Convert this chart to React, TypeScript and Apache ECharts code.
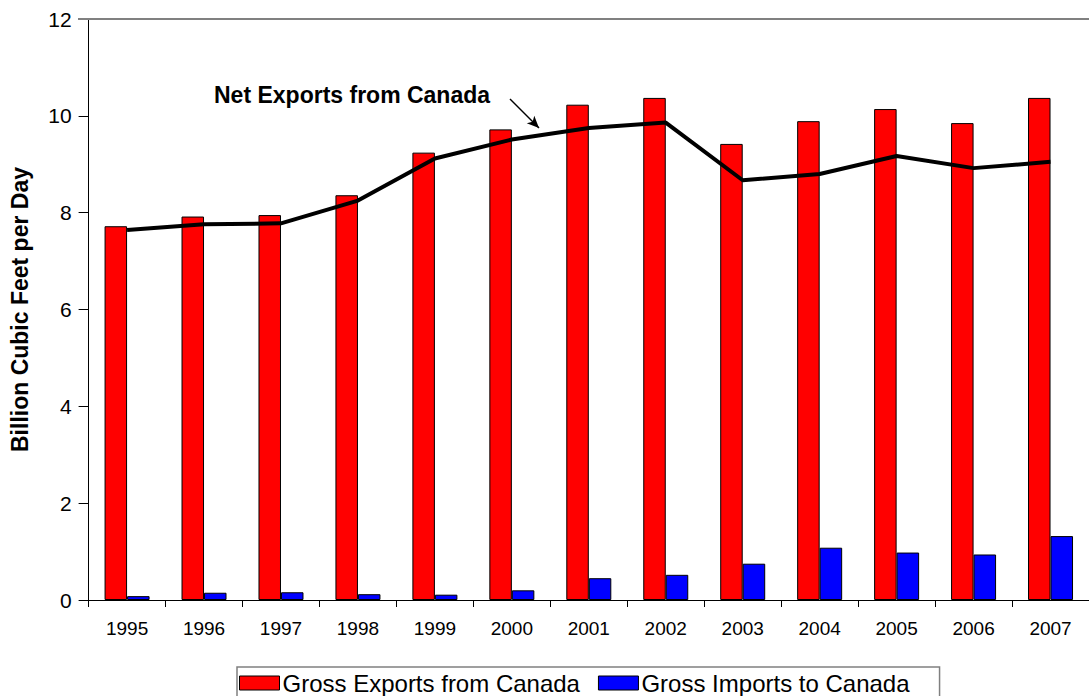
import React, { useEffect, useRef } from "react";
import * as echarts from "echarts";

const years = ["1995", "1996", "1997", "1998", "1999", "2000", "2001", "2002", "2003", "2004", "2005", "2006", "2007"];
const grossExports = [7.72, 7.92, 7.95, 8.36, 9.24, 9.72, 10.23, 10.37, 9.42, 9.89, 10.14, 9.85, 10.37];
const grossImports = [0.08, 0.15, 0.16, 0.12, 0.11, 0.2, 0.45, 0.52, 0.75, 1.08, 0.98, 0.94, 1.32];
const netExports = [7.64, 7.76, 7.78, 8.25, 9.12, 9.51, 9.75, 9.86, 8.67, 8.8, 9.17, 8.92, 9.05];
const yTicks = { min: 0, max: 12, interval: 2 };

const FONT = "'Liberation Sans', Arial, sans-serif";

export default function App() {
  const ref = useRef<HTMLDivElement>(null);
  useEffect(() => {
    if (!ref.current) return;
    const chart = echarts.init(ref.current, undefined, { renderer: "svg" });
    chart.setOption({
      animation: false,
      backgroundColor: "#fff",
      textStyle: { fontFamily: FONT },
      grid: { left: 88.6, top: 19, width: 1006.5, height: 581, containLabel: false },
      legend: {
        data: ["Gross Exports from Canada", "Gross Imports to Canada"],
        left: 237,
        top: 667,
        orient: "horizontal",
        icon: "rect",
        itemWidth: 40,
        itemHeight: 14,
        itemGap: 18,
        padding: [4, 30, 6, 2],
        borderColor: "#808080",
        borderWidth: 1.5,
        backgroundColor: "#fff",
        itemStyle: { borderColor: "#000", borderWidth: 1 },
        textStyle: { fontFamily: FONT, fontSize: 24, color: "#000", padding: [0, 0, 0, -2] },
      },
      xAxis: {
        type: "category",
        data: years,
        axisLine: { lineStyle: { color: "#000", width: 1 } },
        axisTick: { show: true, alignWithLabel: false, length: 7, lineStyle: { color: "#000" } },
        axisLabel: { color: "#000", fontSize: 19, fontFamily: FONT, margin: 19 },
        splitLine: { show: false },
      },
      yAxis: {
        type: "value",
        min: yTicks.min,
        max: yTicks.max,
        interval: yTicks.interval,
        name: "Billion Cubic Feet per Day",
        nameLocation: "middle",
        nameRotate: 90,
        nameGap: 57,
        nameTextStyle: { fontFamily: FONT, fontSize: 23, fontWeight: "bold", color: "#000" },
        axisLine: { show: true, lineStyle: { color: "#000", width: 1 } },
        axisTick: { show: true, length: 10, lineStyle: { color: "#000" } },
        axisLabel: { color: "#000", fontSize: 21, fontFamily: FONT, margin: 17 },
        splitLine: { show: false },
      },
      series: [
        {
          name: "Gross Exports from Canada",
          type: "bar",
          data: grossExports,
          barWidth: 22.5,
          barGap: "0%",
          itemStyle: { color: "#FF0000", borderColor: "#000", borderWidth: 1 },
        },
        {
          name: "Gross Imports to Canada",
          type: "bar",
          data: grossImports,
          barWidth: 22.5,
          barGap: "0%",
          itemStyle: { color: "#0000FF", borderColor: "#000", borderWidth: 1 },
        },
        {
          name: "Net Exports from Canada",
          type: "line",
          data: netExports,
          symbol: "none",
          z: 5,
          lineStyle: { color: "#000", width: 4 },
          markLine: {
            silent: true,
            animation: false,
            label: { show: false },
            data: [
              [
                { yAxis: 12, x: 78, symbol: "none", lineStyle: { color: "#808080", width: 2, type: "solid" } },
                { yAxis: 12, x: 1089, symbol: "none" },
              ],
              [
                { x: 510, y: 99, symbol: "none", lineStyle: { color: "#000", width: 1.5, type: "solid" } },
                { x: 539, y: 128, symbol: "arrow", symbolSize: [8, 12] },
              ],
            ],
          },
        },
      ],
      graphic: [
        {
          type: "text",
          left: 214,
          top: 83,
          style: { text: "Net Exports from Canada", fontFamily: FONT, fontSize: 23, fontWeight: "bold", fill: "#000" },
        },
      ],
    });
    return () => chart.dispose();
  }, []);
  return <div ref={ref} style={{ position: "fixed", left: 0, top: 0, width: 1089, height: 696 }} />;
}
